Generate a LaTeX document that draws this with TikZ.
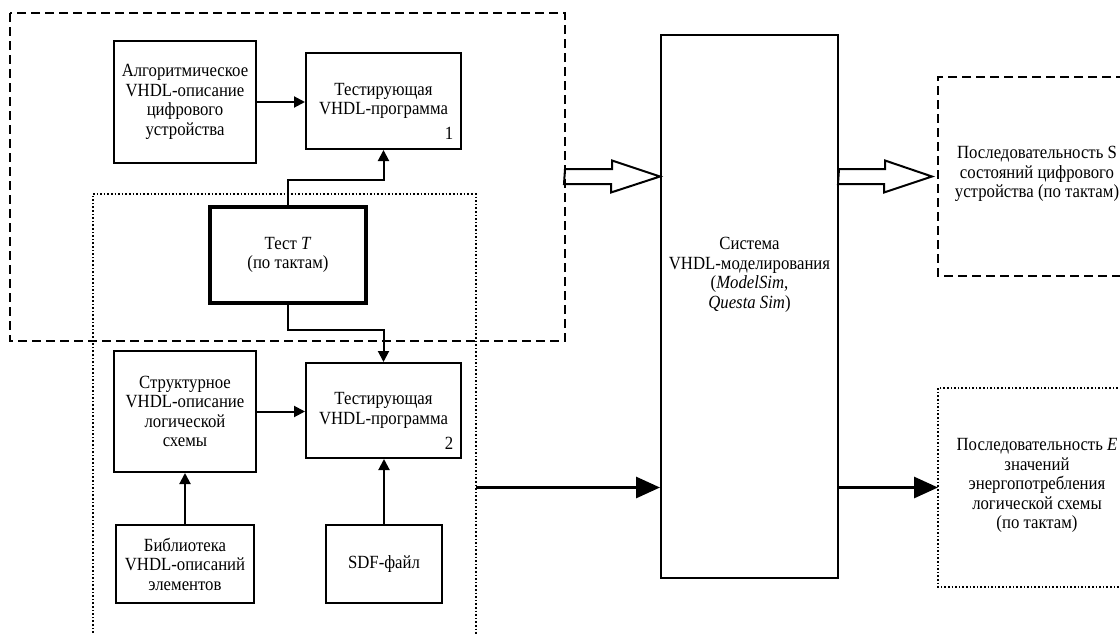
\documentclass[tikz,border=0pt]{standalone}
\usepackage{fontspec}
\setmainfont[FakeStretch=0.9]{Liberation Serif}
\usetikzlibrary{arrows.meta,calc}
\begin{document}
\begin{tikzpicture}[x=1pt,y=-1pt,
  txt/.style={font=\fontsize{18.6}{19.5}\selectfont, align=center, inner sep=0pt},
  blk/.style={draw, line width=2pt, txt},
  boldblk/.style={blk, line width=3.8pt},
  arr/.style={line width=2pt, -{Triangle[length=11pt,width=11pt]}},
  fat/.style={line width=3pt, -{Triangle[length=24pt,width=21pt]}},
  hollow/.style={line width=2pt, line join=miter},
  dashedline/.style={line width=1.9pt, dash pattern=on 9pt off 5pt},
  dottedline/.style={line width=2pt, dash pattern=on 1.6pt off 2pt}]
\useasboundingbox (0,0) rectangle (1120,635);

% group outlines
\draw[dashedline] (10,13) rectangle (565,341);
\draw[dottedline] (92.5,640) -- (92.5,194) -- (475.5,194) -- (475.5,640);

% blocks of the left part
\node[blk, minimum width=142pt, minimum height=122pt] (alg) at (185,102)
  {Алгоритмическое\\VHDL-описание\\цифрового\\устройства};
\node[blk, minimum width=155pt, minimum height=96pt] (tp1) at (383.5,101)
  {Тестирующая\\VHDL-программа};
\node[txt] (tp1n) at ([xshift=-13pt,yshift=17pt]tp1.south east) {1};
\node[boldblk, minimum width=156pt, minimum height=96pt] (tst) at (288,255)
  {Тест \textit{T}\\(по тактам)};
\node[blk, minimum width=142pt, minimum height=121pt] (str) at (185,411.5)
  {Структурное\\VHDL-описание\\логической\\схемы};
\node[blk, minimum width=155pt, minimum height=95pt] (tp2) at (383.5,410.5)
  {Тестирующая\\VHDL-программа};
\node[txt] (tp2n) at ([xshift=-13pt,yshift=16pt]tp2.south east) {2};
\node[blk, minimum width=138pt, minimum height=78pt] (lib) at (185,564)
  {Библиотека\\VHDL-описаний\\элементов};
\node[blk, minimum width=116pt, minimum height=78pt] (sdf) at (384,564)
  {SDF-файл};

% simulator
\node[blk, minimum width=177pt, minimum height=543pt] (sys) at (749.5,306.5) {};
\node[txt] (systxt) at (749.5,275)
  {Система\\VHDL-моделирования\\(\textit{ModelSim},\\\textit{Questa Sim})};

% result sequences
\draw[dashedline] (1125,77) -- (938,77) -- (938,276) -- (1125,276);
\node[txt] (stxt) at (1037,174)
  {Последовательность S\\состояний цифрового\\устройства (по тактам)};
\draw[dottedline] (1125,388) -- (938,388) -- (938,587) -- (1125,587);
\node[txt] (etxt) at (1037,485.5)
  {Последовательность \textit{E}\\значений\\энергопотребления\\логической схемы\\(по тактам)};

% thin connectors
\draw[arr] (alg.east) -- (alg.east -| tp1.west);
\draw[arr] (tst.north) -- ++(0,-25) -| (tp1.south);
\draw[arr] (tst.south) -- ++(0,25) -| (tp2.north);
\draw[arr] (str.east) -- (str.east -| tp2.west);
\draw[arr] (lib.north) -- (str.south);
\draw[arr] (sdf.north) -- (sdf.north |- tp2.south);

% thick connectors
\coordinate (dotR) at (475.5,487.5);
\coordinate (eL) at (938,487.5);
\draw[fat] (dotR) -- (dotR -| sys.west);
\draw[fat] (dotR -| sys.east) -- (eL);

% hollow arrows
\coordinate (dashR) at (565,176.5);
\coordinate (sL) at (932,176.5);
\draw[hollow] (dashR) ++(0,-7.5) -- ++(47,0) -- ++(0,-8.5) -- (dashR -| sys.west)
  -- ++(-49,16) -- ++(0,-8.5) -- ++(-47,0) -- cycle;
\draw[hollow] (dashR -| sys.east) ++(0,-7.5) -- ++(46,0) -- ++(0,-8.5) -- (sL)
  -- ++(-48,16) -- ++(0,-8.5) -- ++(-46,0) -- cycle;
\end{tikzpicture}
\end{document}
